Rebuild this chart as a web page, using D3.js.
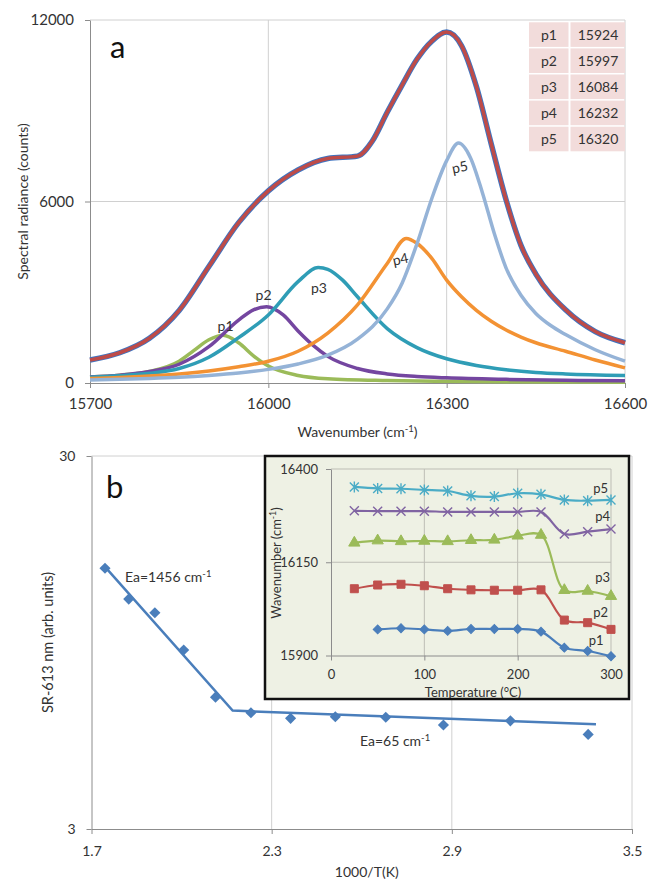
<!DOCTYPE html>
<html>
<head>
<meta charset="utf-8">
<script src="https://cdn.jsdelivr.net/npm/d3@7"></script>
<style>
body { margin: 0; background: #fff; }
svg text { font-family: Lato, "Open Sans", sans-serif; fill: #333; }
</style>
</head>
<body>
<div id="chart"></div>
<script>
// Figure a: spectrum + 5 fitted peaks
// Figure b: SR-613 nm vs 1000/T, inset = peak positions vs temperature

// ---- data, panel a  [wavenumber (cm-1), counts]
const spectrum = [[15700,760],[15750,1000],[15800,1480],[15850,2400],[15900,3850],[15950,5300],[16000,6350],[16050,7040],[16100,7420],[16150,7500],[16175,8000],[16200,8950],[16225,9850],[16250,10700],[16275,11300],[16300,11600],[16325,11150],[16350,9800],[16375,7900],[16400,6050],[16425,4550],[16450,3600],[16500,2420],[16550,1700],[16600,1330]];
const peak1 = [[15700,200],[15750,260],[15800,380],[15850,720],[15875,1080],[15900,1430],[15924,1580],[15950,1330],[15975,900],[16000,560],[16050,250],[16100,140],[16200,80],[16300,55],[16400,40],[16600,25]];
const peak2 = [[15700,200],[15750,260],[15800,380],[15850,620],[15900,1200],[15950,2080],[15975,2420],[15997,2520],[16025,2250],[16050,1720],[16075,1250],[16100,880],[16150,480],[16200,300],[16250,215],[16300,170],[16400,120],[16500,90],[16600,75]];
const peak3 = [[15700,190],[15750,240],[15800,320],[15850,480],[15900,850],[15950,1500],[16000,2250],[16050,3350],[16084,3820],[16100,3760],[16125,3400],[16150,2850],[16200,1800],[16250,1170],[16300,800],[16350,580],[16400,440],[16450,350],[16500,300],[16600,250]];
const peak4 = [[15700,150],[15750,180],[15800,230],[15850,300],[15900,400],[15950,540],[16000,720],[16050,1050],[16100,1650],[16150,2580],[16200,3950],[16232,4780],[16250,4620],[16275,4120],[16300,3400],[16325,2850],[16350,2400],[16375,2040],[16400,1750],[16425,1520],[16450,1330],[16500,1050],[16550,760],[16600,500]];
const peak5 = [[15700,100],[15750,120],[15800,150],[15850,190],[15900,250],[15950,330],[16000,450],[16050,630],[16100,920],[16150,1450],[16200,2450],[16225,3300],[16250,4600],[16275,6100],[16300,7350],[16320,7930],[16340,7450],[16360,6300],[16380,4950],[16400,3800],[16425,2900],[16450,2300],[16475,1900],[16500,1600],[16550,1100],[16600,720]];
const peakNames = ["p1", "p2", "p3", "p4", "p5"];
const peakCenters = [15924, 15997, 16084, 16232, 16320];
const peakLabelAt = [[15928,1835],[15992,2860],[16085,3107],[16224,4066],[16324,7107]];
const xTicksA = [15700, 16000, 16300, 16600];
const yTicksA = [0, 6000, 12000];

// ---- data, panel b
const invT = [1.745, 1.824, 1.911, 2.007, 2.113, 2.231, 2.363, 2.512, 2.680, 2.872, 3.095, 3.354];
const sr613 = [15.0, 12.4, 11.4, 9.06, 6.77, 6.15, 5.94, 6.0, 5.98, 5.70, 5.85, 5.38];
const fitInvT = [1.74, 2.17, 3.38];
const fitSR = [15.3, 6.23, 5.73];
const xTicksB = [1.7, 2.3, 2.9, 3.5];
const yTicksB = [3, 30];

// ---- data, inset (peak position vs temperature)
const tempC = [25, 50, 75, 100, 125, 150, 175, 200, 225, 250, 275, 300];
const posP1 = [null, 15970, 15973, 15970, 15966, 15971, 15971, 15971, 15964, 15921, 15912, 15898];
const posP2 = [16079, 16089, 16091, 16087, 16079, 16076, 16075, 16075, 16076, 15995, 15988, 15970];
const posP3 = [16202, 16208, 16206, 16207, 16206, 16209, 16210, 16221, 16223, 16075, 16073, 16059];
const posP4 = [16288, 16287, 16287, 16287, 16285, 16285, 16285, 16285, 16285, 16226, 16232, 16239];
const posP5 = [16352, 16348, 16347, 16344, 16341, 16328, 16326, 16335, 16332, 16317, 16315, 16317];
const insetLabelAt = [[284,15941],[289,16016],[291,16110],[291,16272],[289,16349]];
const xTicksC = [0, 100, 200, 300];
const yTicksC = [15900, 16150, 16400];

// colours
const peakColors = ["#9BBB59", "#7446A0", "#2F9DB6", "#F39233", "#95B3D7"];
const insetColors = ["#4A7EBB", "#C0504D", "#9BBB59", "#8064A2", "#4BACC6"];
const gridColor = "#d0d0d0";
const axisColor = "#8c8c8c";

// plot areas
const A = {left: 90, right: 625, top: 20, bottom: 383};
const B = {left: 91.5, right: 632, top: 456, bottom: 829};
const C = {left: 331, right: 611, top: 469, bottom: 655.5};

const svg = d3.select("#chart")
    .append("svg")
    .attr("width", 650)
    .attr("height", 882);

// little helper: "text cm-1 text" with superscript
function cmInv(sel, before, after) {
    sel.append("tspan").text(before + "cm");
    sel.append("tspan").attr("dy", -5).attr("font-size", "0.68em").text("-1");
    sel.append("tspan").attr("dy", 5).text(after);
}

// ================= panel a =================
const xA = d3.scaleLinear().domain([15700, 16600]).range([A.left, A.right]);
const yA = d3.scaleLinear().domain([0, 12000]).range([A.bottom, A.top]);

// gridlines
svg.append("g").selectAll("line")
    .data(xTicksA.slice(1))
    .join("line")
    .attr("x1", d => xA(d)).attr("x2", d => xA(d))
    .attr("y1", A.top).attr("y2", A.bottom)
    .attr("stroke", gridColor);
svg.append("g").selectAll("line")
    .data(yTicksA.slice(1))
    .join("line")
    .attr("x1", A.left).attr("x2", A.right)
    .attr("y1", d => yA(d)).attr("y2", d => yA(d))
    .attr("stroke", gridColor);

// axes (font-size set after .call, the axis resets it)
svg.append("g")
    .attr("transform", `translate(0,${A.bottom})`)
    .style("color", axisColor)
    .call(d3.axisBottom(xA).tickValues(xTicksA).tickSize(5).tickPadding(10).tickSizeOuter(0).tickFormat(d3.format("d")))
    .attr("font-size", 15);
svg.append("g")
    .attr("transform", `translate(${A.left},0)`)
    .style("color", axisColor)
    .call(d3.axisLeft(yA).tickValues(yTicksA).tickSize(5).tickPadding(11).tickSizeOuter(0).tickFormat(d3.format("d")))
    .attr("font-size", 15);

const lineA = d3.line()
    .x(d => xA(d[0]))
    .y(d => yA(d[1]))
    .curve(d3.curveMonotoneX);

[peak1, peak2, peak3, peak4, peak5].forEach(function(pk, i) {
    svg.append("path")
        .datum(pk)
        .attr("d", lineA)
        .attr("fill", "none")
        .attr("stroke", peakColors[i])
        .attr("stroke-width", 3.5);
});

// measured (blue) under the fit (red)
svg.append("path").datum(spectrum).attr("d", lineA)
    .attr("fill", "none").attr("stroke", "#3F74C0").attr("stroke-width", 5.5);
svg.append("path").datum(spectrum).attr("d", lineA)
    .attr("fill", "none").attr("stroke", "#BE4B48").attr("stroke-width", 3.5);

// peak names on the curves
svg.append("g").selectAll("text")
    .data(peakLabelAt)
    .join("text")
    .attr("transform", (d, i) => `translate(${xA(d[0])},${yA(d[1]) + 4}) rotate(${i > 2 ? -12 : 0})`)
    .attr("text-anchor", "middle")
    .attr("font-size", 14)
    .text((d, i) => peakNames[i]);

// table of peak centres
const rowH = 26.1, tabX = 529, tabY = 22.3;
const tab = svg.append("g");
peakNames.forEach(function(name, i) {
    tab.append("rect").attr("x", tabX).attr("y", tabY + i * rowH)
        .attr("width", 39.5).attr("height", rowH - 1.5).attr("fill", "#F2DCDB");
    tab.append("rect").attr("x", tabX + 41.5).attr("y", tabY + i * rowH)
        .attr("width", 54.5).attr("height", rowH - 1.5).attr("fill", "#F2DCDB");
    tab.append("text").attr("x", tabX + 20).attr("y", tabY + i * rowH + 17.5)
        .attr("text-anchor", "middle").attr("font-size", 14).text(name);
    tab.append("text").attr("x", tabX + 69).attr("y", tabY + i * rowH + 17.5)
        .attr("text-anchor", "middle").attr("font-size", 14).text(peakCenters[i]);
});

svg.append("text").attr("x", 110).attr("y", 58).attr("font-size", 31).style("fill", "#111").text("a");

svg.append("text")
    .attr("transform", `translate(28,${(A.top + A.bottom) / 2}) rotate(-90)`)
    .attr("text-anchor", "middle").attr("font-size", 14)
    .text("Spectral radiance (counts)");
cmInv(svg.append("text")
    .attr("x", (A.left + A.right) / 2).attr("y", 437)
    .attr("text-anchor", "middle").attr("font-size", 14), "Wavenumber (", ")");

// ================= panel b =================
const xB = d3.scaleLinear().domain([1.7, 3.5]).range([B.left, B.right]);
const yB = d3.scaleLog().domain([3, 30]).range([B.bottom, B.top]);

svg.append("g").selectAll("line")
    .data(xTicksB.slice(1))
    .join("line")
    .attr("x1", d => xB(d)).attr("x2", d => xB(d))
    .attr("y1", B.top).attr("y2", B.bottom)
    .attr("stroke", gridColor);
svg.append("line")
    .attr("x1", B.left).attr("x2", B.right)
    .attr("y1", yB(30)).attr("y2", yB(30))
    .attr("stroke", gridColor);

svg.append("g")
    .attr("transform", `translate(0,${B.bottom})`)
    .style("color", axisColor)
    .call(d3.axisBottom(xB).tickValues(xTicksB).tickSize(5).tickPadding(12).tickSizeOuter(0).tickFormat(d3.format(".1f")))
    .attr("font-size", 14);
svg.append("g")
    .attr("transform", `translate(${B.left},0)`)
    .style("color", axisColor)
    .call(d3.axisLeft(yB).tickValues(yTicksB).tickSize(5).tickPadding(11).tickSizeOuter(0).tickFormat(d3.format("d")))
    .attr("font-size", 14);

// fit (two straight segments)
svg.append("path")
    .datum(fitInvT.map((x, i) => [x, fitSR[i]]))
    .attr("d", d3.line().x(d => xB(d[0])).y(d => yB(d[1])))
    .attr("fill", "none")
    .attr("stroke", "#4A7EBB")
    .attr("stroke-width", 2.5);

svg.append("g").selectAll("path")
    .data(invT.map((x, i) => [x, sr613[i]]))
    .join("path")
    .attr("d", d3.symbol(d3.symbolSquare, 62))
    .attr("transform", d => `translate(${xB(d[0])},${yB(d[1])}) rotate(45)`)
    .attr("fill", "#4A7EBB");

cmInv(svg.append("text").attr("x", 125).attr("y", 582).attr("font-size", 14), "Ea=1456 ", "");
cmInv(svg.append("text").attr("x", 360).attr("y", 746).attr("font-size", 14), "Ea=65 ", "");

svg.append("text").attr("x", 106).attr("y", 498).attr("font-size", 31).style("fill", "#111").text("b");

svg.append("text")
    .attr("transform", `translate(53,${(B.top + B.bottom) / 2}) rotate(-90)`)
    .attr("text-anchor", "middle").attr("font-size", 14.5)
    .text("SR-613 nm (arb. units)");
svg.append("text")
    .attr("x", (B.left + B.right) / 2 + 5).attr("y", 877)
    .attr("text-anchor", "middle").attr("font-size", 14)
    .text("1000/T(K)");

// ================= inset =================
const box = {x: 265, y: 456, w: 364, h: 243};
svg.append("rect")
    .attr("x", box.x).attr("y", box.y).attr("width", box.w).attr("height", box.h)
    .attr("fill", "#EEF1E4");

const xC = d3.scaleLinear().domain([0, 300]).range([C.left, C.right]);
const yC = d3.scaleLinear().domain([15900, 16400]).range([C.bottom, C.top]);

svg.append("g").selectAll("line")
    .data(xTicksC.slice(1))
    .join("line")
    .attr("x1", d => xC(d)).attr("x2", d => xC(d))
    .attr("y1", C.top).attr("y2", C.bottom)
    .attr("stroke", "#bdbdb5");
svg.append("g").selectAll("line")
    .data(yTicksC.slice(1))
    .join("line")
    .attr("x1", C.left).attr("x2", C.right)
    .attr("y1", d => yC(d)).attr("y2", d => yC(d))
    .attr("stroke", "#bdbdb5");

svg.append("g")
    .attr("transform", `translate(0,${C.bottom})`)
    .style("color", axisColor)
    .call(d3.axisBottom(xC).tickValues(xTicksC).tickSize(5).tickPadding(9).tickSizeOuter(0))
    .attr("font-size", 13);
svg.append("g")
    .attr("transform", `translate(${C.left},0)`)
    .style("color", axisColor)
    .call(d3.axisLeft(yC).tickValues(yTicksC).tickSize(5).tickPadding(8).tickSizeOuter(0).tickFormat(d3.format("d")))
    .attr("font-size", 13);

const lineC = d3.line()
    .defined(d => d[1] != null)
    .x(d => xC(d[0]))
    .y(d => yC(d[1]))
    .curve(d3.curveCatmullRom);

// marker shapes for p1..p5
const markers = [
    g => g.append("path").attr("d", d3.symbol(d3.symbolSquare, 40)).attr("transform", "rotate(45)"),
    g => g.append("path").attr("d", d3.symbol(d3.symbolSquare, 64)),
    g => g.append("path").attr("d", d3.symbol(d3.symbolTriangle, 55)),
    g => g.append("path").attr("d", "M-4.5,-4.5L4.5,4.5M-4.5,4.5L4.5,-4.5").attr("stroke-width", 1.4),
    g => g.append("path").attr("d", "M-4.5,-4.5L4.5,4.5M-4.5,4.5L4.5,-4.5M0,-5.5L0,5.5").attr("stroke-width", 1.4)
];

[posP1, posP2, posP3, posP4, posP5].forEach(function(pos, i) {
    const pts = tempC.map((t, j) => [t, pos[j]]);
    svg.append("path")
        .datum(pts)
        .attr("d", lineC)
        .attr("fill", "none")
        .attr("stroke", insetColors[i])
        .attr("stroke-width", 2.2);
    svg.append("g").selectAll("g")
        .data(pts.filter(d => d[1] != null))
        .join("g")
        .attr("transform", d => `translate(${xC(d[0])},${yC(d[1])})`)
        .attr("fill", insetColors[i])
        .attr("stroke", insetColors[i])
        .each(function() { markers[i](d3.select(this)); });
});

svg.append("g").selectAll("text")
    .data(insetLabelAt)
    .join("text")
    .attr("x", d => xC(d[0]))
    .attr("y", d => yC(d[1]) + 4.5)
    .attr("text-anchor", "middle")
    .attr("font-size", 13)
    .text((d, i) => peakNames[i]);

cmInv(svg.append("text")
    .attr("transform", `translate(281,563) rotate(-90)`)
    .attr("text-anchor", "middle").attr("font-size", 13), "Wavenumber (", ")");
svg.append("text")
    .attr("x", (C.left + C.right) / 2 + 2).attr("y", 697)
    .attr("text-anchor", "middle").attr("font-size", 13)
    .text("Temperature (°C)");

// black frame on top
svg.append("rect")
    .attr("x", box.x).attr("y", box.y).attr("width", box.w).attr("height", box.h)
    .attr("fill", "none").attr("stroke", "#111").attr("stroke-width", 2.5);
</script>
</body>
</html>
